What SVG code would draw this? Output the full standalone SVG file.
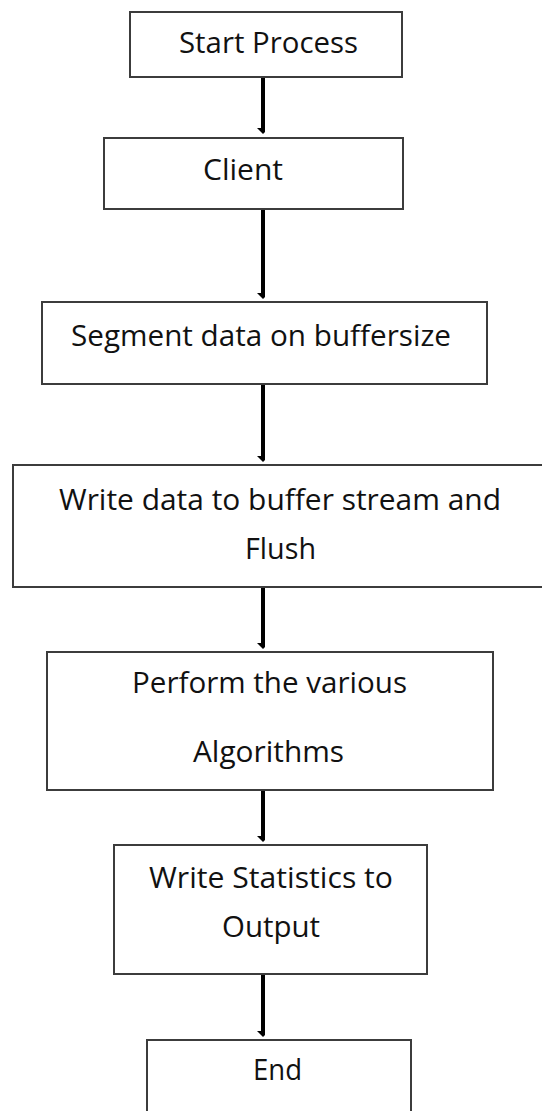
<svg xmlns="http://www.w3.org/2000/svg" width="542" height="1111" viewBox="0 0 542 1111">
  <style>
    .box { fill: #ffffff; stroke: #3c3c3c; stroke-width: 2; }
    .label { font-family: "Open Sans", "Noto Sans", "Liberation Sans", sans-serif; font-size: 30px; fill: #111111; text-anchor: middle; }
    .flow { stroke: #000000; stroke-width: 4; fill: none; marker-end: url(#head); }
  </style>
  <defs>
    <!-- small solid head at the lower end of each vertical flow line -->
    <marker id="head" markerUnits="userSpaceOnUse" markerWidth="12" markerHeight="8" refX="6" refY="2" orient="auto-start-reverse" viewBox="0 0 12 8">
      <path d="M0,0 L12,0 L6,6 Z" fill="#000000" transform="rotate(-90 6 2)"/>
    </marker>
  </defs>
  <rect width="542" height="1111" fill="#ffffff"/>

  <g id="connectors">
    <line class="flow" x1="263" y1="77" x2="263" y2="130"/>
    <line class="flow" x1="263" y1="209" x2="263" y2="295"/>
    <line class="flow" x1="263" y1="384" x2="263" y2="458"/>
    <line class="flow" x1="263" y1="587" x2="263" y2="645"/>
    <line class="flow" x1="263" y1="790" x2="263" y2="838"/>
    <line class="flow" x1="263" y1="974" x2="263" y2="1033"/>
  </g>

  <g id="start">
    <rect class="box" x="130" y="12" width="272" height="65"/>
    <text class="label" x="268.5" y="53" textLength="179" lengthAdjust="spacingAndGlyphs">Start Process</text>
  </g>
  <g id="client">
    <rect class="box" x="104" y="138" width="299" height="71"/>
    <text class="label" x="243" y="180" textLength="80" lengthAdjust="spacingAndGlyphs">Client</text>
  </g>
  <g id="segment">
    <rect class="box" x="42" y="302" width="445" height="82"/>
    <text class="label" x="261" y="346" textLength="380" lengthAdjust="spacingAndGlyphs">Segment data on buffersize</text>
  </g>
  <g id="write-buffer">
    <rect class="box" x="13" y="465" width="531" height="122"/>
    <text class="label" x="280" y="510" textLength="442" lengthAdjust="spacingAndGlyphs">Write data to buffer stream and</text>
    <text class="label" x="280.5" y="559" textLength="71" lengthAdjust="spacingAndGlyphs">Flush</text>
  </g>
  <g id="algorithms">
    <rect class="box" x="47" y="652" width="446" height="138"/>
    <text class="label" x="269.5" y="693" textLength="275" lengthAdjust="spacingAndGlyphs">Perform the various</text>
    <text class="label" x="268.5" y="762" textLength="151" lengthAdjust="spacingAndGlyphs">Algorithms</text>
  </g>
  <g id="statistics">
    <rect class="box" x="114" y="845" width="313" height="129"/>
    <text class="label" x="271" y="888" textLength="244" lengthAdjust="spacingAndGlyphs">Write Statistics to</text>
    <text class="label" x="271" y="937" textLength="98" lengthAdjust="spacingAndGlyphs">Output</text>
  </g>
  <g id="end">
    <rect class="box" x="147" y="1040" width="264" height="90"/>
    <text class="label" x="277.5" y="1080" textLength="49" lengthAdjust="spacingAndGlyphs">End</text>
  </g>
</svg>
